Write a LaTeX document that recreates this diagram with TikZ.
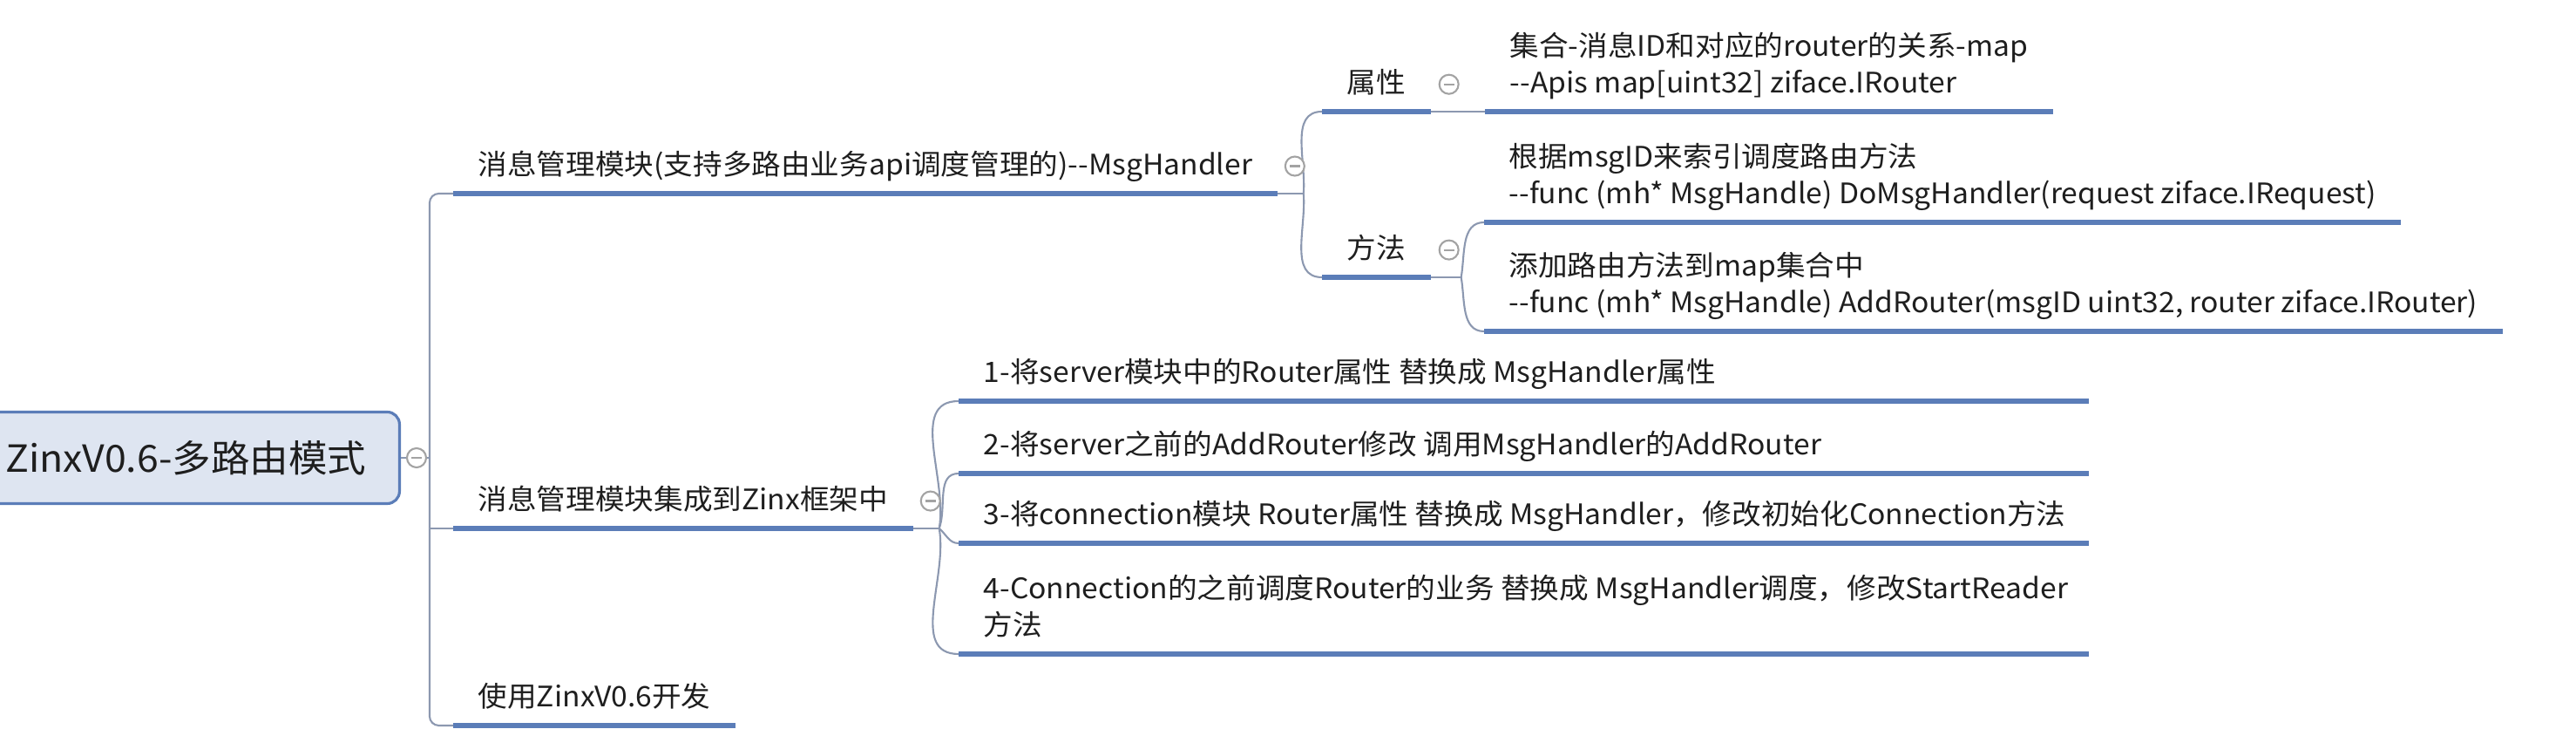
\documentclass[tikz,border=0pt]{standalone}
\usepackage{fontspec}
\setmainfont{Noto Sans CJK SC}[FakeStretch=1.04]
\definecolor{linebl}{HTML}{5B7DB8}
\definecolor{linkgr}{HTML}{8C98B0}
\definecolor{foldgr}{HTML}{A3A3A3}
\definecolor{rootfill}{HTML}{DEE5F1}
\definecolor{txtdark}{HTML}{1E1E1E}
\usetikzlibrary{positioning}

\begin{document}
\begin{tikzpicture}[
  every node/.style={font=\fontsize{9.2pt}{11.8pt}\selectfont, text=txtdark},
  topic/.style={anchor=south west, align=left, inner xsep=0.28cm, inner ysep=0.13cm,
                text depth=0.08cm},
  rootbox/.style={rectangle, rounded corners=4pt, draw=linebl, fill=rootfill,
                  line width=0.9pt, minimum height=1.05cm, inner xsep=0.38cm,
                  text width=4.4cm, align=right,
                  font=\fontsize{12.2pt}{15pt}\selectfont},
  fold/.style={circle, draw=foldgr, fill=white, line width=0.6pt, minimum size=0.22cm,
               inner sep=0pt, path picture={\draw[foldgr, line width=0.6pt]
               ([xshift=-0.06cm]path picture bounding box.center) --
               ([xshift=0.06cm]path picture bounding box.center);}},
  uline/.style={draw=linebl, line width=1.5pt},
  link/.style={draw=linkgr, line width=0.6pt}
]
  \useasboundingbox (0,0) rectangle (29.56,8.44);

  \node[rootbox, anchor=east] (root) at (4.60,3.19) {ZinxV0.6-多路由模式};

  % main branches
  \node[topic] (b1) at (5.20,6.22) {消息管理模块(支持多路由业务api调度管理的)-{}-MsgHandler};
  \node[topic] (b2) at (5.20,2.38) {消息管理模块集成到Zinx框架中};
  \node[topic] (b3) at (5.20,0.12) {使用ZinxV0.6开发};

  % MsgHandler
  \node[topic] (p1) at (15.17,7.16) {属性};
  \node[topic] (m1) at (15.17,5.26) {方法};
  \node[topic] (l1) at (17.04,7.16) {集合-消息ID和对应的router的关系-map\\-{}-Apis map[uint32] ziface.IRouter};
  \node[topic] (l2) at (17.03,5.89) {根据msgID来索引调度路由方法\\-{}-func (mh* MsgHandle) DoMsgHandler(request ziface.IRequest)};
  \node[topic] (l3) at (17.03,4.64) {添加路由方法到map集合中\\-{}-func (mh* MsgHandle) AddRouter(msgID uint32, router ziface.IRouter)};

  % Zinx integration
  \node[topic] (i1) at (11.00,3.84) {1-将server模块中的Router属性 替换成 MsgHandler属性};
  \node[topic] (i2) at (11.00,3.01) {2-将server之前的AddRouter修改 调用MsgHandler的AddRouter};
  \node[topic] (i3) at (11.00,2.21) {3-将connection模块 Router属性 替换成 MsgHandler，修改初始化Connection方法};
  \node[topic] (i4) at (11.00,0.94) {4-Connection的之前调度Router的业务 替换成 MsgHandler调度，修改StartReader\\方法};

  % connectors
  \coordinate (tk) at (4.93,3.19);
  \draw[link] (root.east) -- (tk);
  \draw[link, rounded corners=3pt] (b1.south west) -| (tk) |- (b3.south west);
  \draw[link] (b2.south west) -- (b2.south west -| tk);

  \coordinate (j1) at ([xshift=0.3cm]b1.south east);
  \draw[link] (b1.south east) -- (j1);
  \draw[link] (j1) to[out=85,in=180] (p1.south west);
  \draw[link] (j1) to[out=-85,in=180] (m1.south west);
  \draw[link] (p1.south east) -- (l1.south west);

  \coordinate (j2) at ([xshift=0.35cm]m1.south east);
  \draw[link] (m1.south east) -- (j2);
  \draw[link] (j2) to[out=80,in=180] (l2.south west);
  \draw[link] (j2) to[out=-80,in=180] (l3.south west);

  \coordinate (j3) at ([xshift=0.3cm]b2.south east);
  \draw[link] (b2.south east) -- (j3);
  \foreach \n/\a in {i1/80, i2/70, i3/-40, i4/-80}
    \draw[link] (j3) to[out=\a,in=180] (\n.south west);

  % underlines
  \foreach \n in {b1,b2,b3,p1,m1,l1,l2,l3}
    \draw[uline] (\n.south west) -- (\n.south east);
  \foreach \n in {i1,i2,i3,i4}
    \draw[uline] (\n.south west) -- ++(12.97,0);

  % fold markers
  \node[fold] (rc) at ([xshift=0.18cm]root.east) {};
  \node[fold] (c1) at ([xshift=0.2cm]b1.east) {};
  \node[fold] (c2) at ([xshift=0.2cm]b2.east) {};
  \node[fold] (cp) at ([xshift=0.21cm]p1.east) {};
  \node[fold] (cm) at ([xshift=0.21cm]m1.east) {};
\end{tikzpicture}
\end{document}
